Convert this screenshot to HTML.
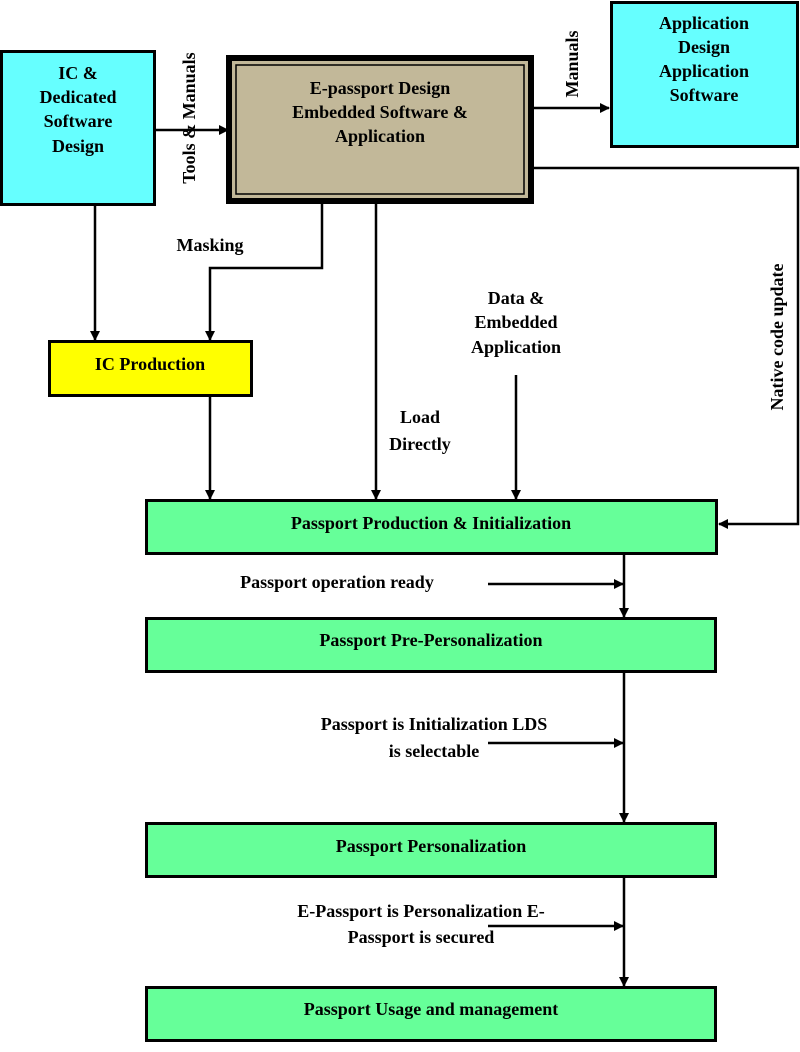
<!DOCTYPE html>
<html><head><meta charset="utf-8"><style>
html,body{margin:0;padding:0;background:#fff}
svg text{font-family:"Liberation Serif",serif;font-weight:bold;font-size:18px;fill:#000}
</style></head><body>
<svg width="800" height="1047" viewBox="0 0 800 1047" xmlns="http://www.w3.org/2000/svg">
<defs><marker id="a" markerWidth="10" markerHeight="10" refX="9" refY="5" orient="auto" markerUnits="userSpaceOnUse"><path d="M0,0 L10,5 L0,10 z" fill="#000"/></marker></defs>
<g stroke="#000" stroke-width="3" fill="none">
<rect x="1.5" y="51.5" width="153" height="153" fill="#66ffff"/>
<rect x="611.5" y="2.5" width="186" height="144" fill="#66ffff"/>
<rect x="49.5" y="341.5" width="202" height="54" fill="#ffff00"/>
<rect x="146.5" y="500.5" width="570" height="53" fill="#66ff99"/>
<rect x="146.5" y="618.5" width="569" height="53" fill="#66ff99"/>
<rect x="146.5" y="823.5" width="569" height="53" fill="#66ff99"/>
<rect x="146.5" y="987.5" width="569" height="53" fill="#66ff99"/>
</g>
<rect x="229" y="58" width="302" height="143" fill="#c2b899" stroke="#000" stroke-width="6"/>
<rect x="236" y="65" width="288" height="129" fill="none" stroke="#000" stroke-width="1.5"/>
<g stroke="#000" stroke-width="2.5" fill="none" marker-end="url(#a)">
<line x1="156" y1="130" x2="228" y2="130"/>
<line x1="532" y1="108" x2="609" y2="108"/>
<line x1="95" y1="206" x2="95" y2="340"/>
<polyline points="322,202 322,268 210,268 210,340"/>
<line x1="376" y1="202" x2="376" y2="499"/>
<line x1="516" y1="375" x2="516" y2="499"/>
<line x1="210" y1="397" x2="210" y2="499"/>
<polyline points="532,168 798,168 798,524 719,524"/>
<line x1="624" y1="555" x2="624" y2="617"/>
<line x1="488" y1="584" x2="623" y2="584"/>
<line x1="624" y1="673" x2="624" y2="822"/>
<line x1="488" y1="743" x2="623" y2="743"/>
<line x1="624" y1="878" x2="624" y2="986"/>
<line x1="488" y1="926" x2="623" y2="926"/>
</g>
<g text-anchor="middle">
<text x="78" y="79">IC &amp;</text><text x="78" y="103">Dedicated</text><text x="78" y="127">Software</text><text x="78" y="152">Design</text>
<text x="380" y="94">E-passport Design</text><text x="380" y="118">Embedded Software &amp;</text><text x="380" y="142">Application</text>
<text x="704" y="29">Application</text><text x="704" y="53">Design</text><text x="704" y="77">Application</text><text x="704" y="101">Software</text>
<text x="150" y="370">IC Production</text>
<text x="210" y="251">Masking</text>
<text x="516" y="304">Data &amp;</text><text x="516" y="328">Embedded</text><text x="516" y="353">Application</text>
<text x="420" y="423">Load</text><text x="420" y="450">Directly</text>
<text x="431" y="529">Passport Production &amp; Initialization</text>
<text x="337" y="588">Passport operation ready</text>
<text x="431" y="646">Passport Pre-Personalization</text>
<text x="434" y="730">Passport is Initialization LDS</text><text x="434" y="757">is selectable</text>
<text x="431" y="852">Passport Personalization</text>
<text x="421" y="917">E-Passport is Personalization E-</text><text x="421" y="943">Passport is secured</text>
<text x="431" y="1015">Passport Usage and management</text>
<text transform="translate(195,118) rotate(-90)">Tools &amp; Manuals</text>
<text transform="translate(578,64) rotate(-90)">Manuals</text>
<text transform="translate(783,337) rotate(-90)">Native code update</text>
</g>
</svg>
</body></html>
